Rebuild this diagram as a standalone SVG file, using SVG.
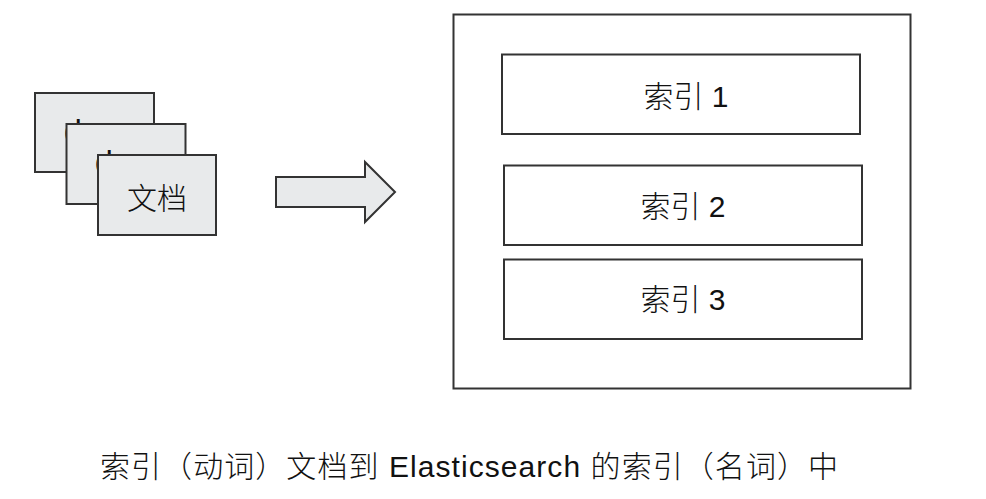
<svg xmlns="http://www.w3.org/2000/svg" width="986" height="499" viewBox="0 0 986 499">
<style>
  .doc { fill: #e8eaeb; stroke: #333; stroke-width: 2; }
  .box { fill: #fff; stroke: #333; stroke-width: 2; }
  .t { font-family: "Liberation Sans", "Noto Sans CJK SC", sans-serif; font-size: 30px; font-weight: 300; fill: #111; text-anchor: middle; }
  .h { font-family: "Liberation Sans", sans-serif; font-size: 32px; fill: #111; }
</style>
<rect width="986" height="499" fill="#fff"/>
<g id="doc1">
  <rect class="doc" x="35" y="93" width="119" height="79"/>
  <text class="h" x="64" y="141.5">d</text>
</g>
<g id="doc2">
  <rect class="doc" x="66.5" y="124" width="119" height="80"/>
  <text class="h" x="95" y="172.5">d</text>
</g>
<g id="doc3">
  <rect class="doc" x="98" y="155" width="118" height="80"/>
  <text class="t" x="157" y="209">文档</text>
</g>
<g id="connectors">
  <path class="doc" d="M276,177 L365,177 L365,162 L395,192 L365,222 L365,207 L276,207 Z"/>
</g>
<g id="es">
  <rect class="box" x="453.5" y="14.5" width="457" height="374"/>
</g>
<g id="index1">
  <rect class="box" x="502" y="54.5" width="358" height="79.5"/>
  <text class="t" x="686" y="107">索引 1</text>
</g>
<g id="index2">
  <rect class="box" x="504" y="165.5" width="358" height="79.5"/>
  <text class="t" x="683" y="217">索引 2</text>
</g>
<g id="index3">
  <rect class="box" x="504" y="259.5" width="358" height="79.5"/>
  <text class="t" x="683" y="310">索引 3</text>
</g>
<g id="caption">
  <text class="t" x="469" y="477" textLength="738" lengthAdjust="spacing">索引（动词）文档到 Elasticsearch 的索引（名词）中</text>
</g>
</svg>
